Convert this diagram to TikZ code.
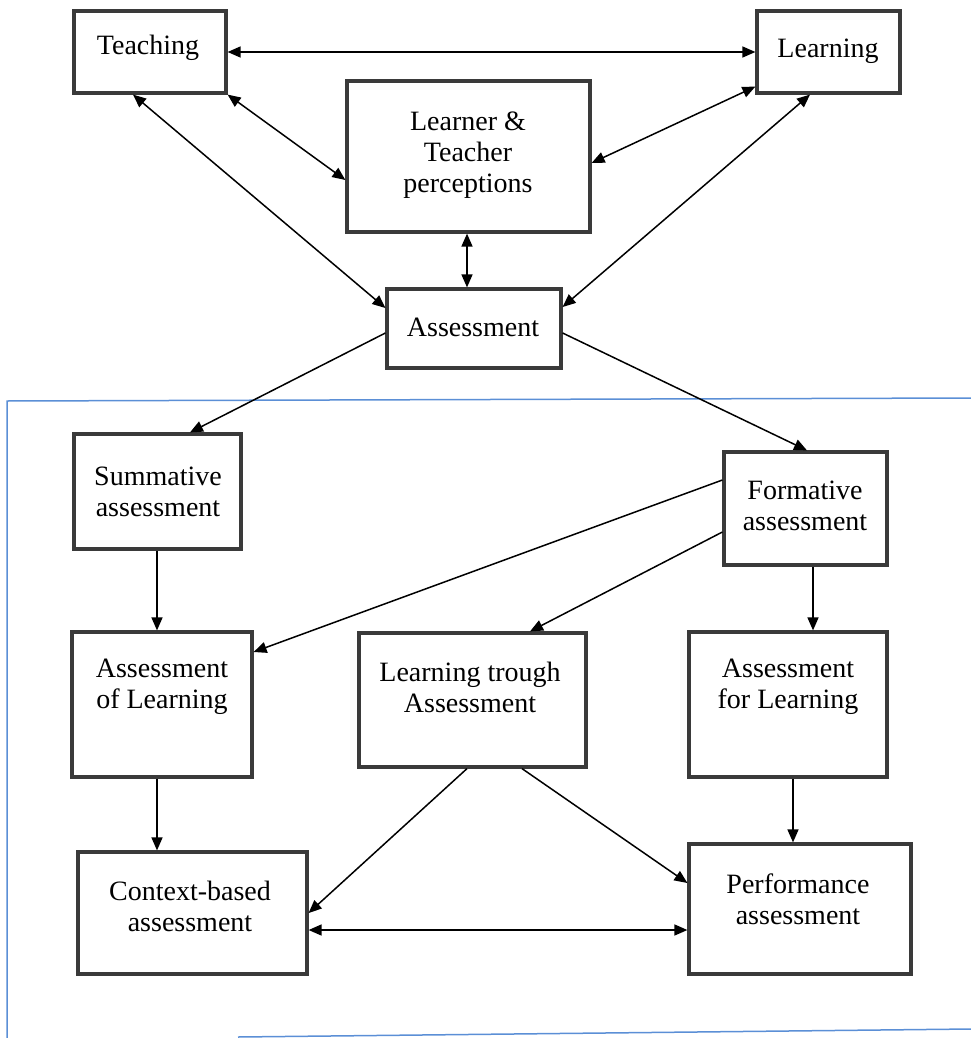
\documentclass[tikz,border=0pt]{standalone}
\usepackage{fontspec}
\setmainfont{Liberation Serif}
\usetikzlibrary{arrows.meta,fit,calc}
\definecolor{boxgray}{HTML}{3A3A3A}
\definecolor{frameblue}{HTML}{5B8FD6}
\begin{document}
\begin{tikzpicture}[x=1pt,y=-1pt,
  box/.style={draw=boxgray, line width=3.2pt, rectangle, inner sep=0pt, fill=none},
  lbl/.style={align=center, inner sep=0pt, font=\fontsize{28}{31}\selectfont},
  conn/.style={line width=1.5pt, -{Triangle[length=13pt,width=11pt]}},
  bconn/.style={line width=1.5pt, {Triangle[length=13pt,width=11pt]}-{Triangle[length=13pt,width=11pt]}},
  frame/.style={draw=frameblue, line width=1.5pt}
]
\useasboundingbox (0,0) rectangle (971,1038);

% blue frame
\draw[frame] (7,1038) -- (7,401) -- (971,398);
\draw[frame] (238,1037) -- (971,1029);

% boxes
\node[box, fit={(74,11) (226,93)}] (T) {};
\node[box, fit={(757,11) (900,93)}] (L) {};
\node[box, fit={(347,81) (590,232)}] (P) {};
\node[box, fit={(387,289) (561,368)}] (A) {};
\node[box, fit={(74,434) (241,549)}] (S) {};
\node[box, fit={(724,452) (887,565)}] (F) {};
\node[box, fit={(72,632) (252,777)}] (AoL) {};
\node[box, fit={(359,633) (586,767)}] (LtA) {};
\node[box, fit={(689,632) (887,777)}] (AfL) {};
\node[box, fit={(78,852) (307,974)}] (C) {};
\node[box, fit={(689,844) (911,974)}] (Pf) {};

% texts
\node[lbl] (tT) at (148,48) {Teaching};
\node[lbl] (tL) at (828,51) {Learning};
\node[lbl] (tP) at (468,155) {Learner \&\\Teacher\\perceptions};
\node[lbl] (tA) at (473,327) {Assessment};
\node[lbl] (tS) at (158,492) {Summative\\assessment};
\node[lbl] (tF) at (805,506) {Formative\\assessment};
\node[lbl] (tAoL) at (162,687) {Assessment\\of Learning};
\node[lbl] (tLtA) at (470,687) {Learning trough\\Assessment};
\node[lbl] (tAfL) at (788,687) {Assessment\\for Learning};
\node[lbl] (tC) at (190,906) {Context-based\\assessment};
\node[lbl] (tPf) at (798,899) {Performance\\assessment};

% connectors
\draw[bconn] (T.east) -- (L.west);
\draw[bconn] (T.south east) -- ([yshift=-23.5pt]P.west);
\draw[bconn] ([xshift=-17pt]T.south) -- ([yshift=20.5pt]A.west);
\draw[bconn] ([yshift=8pt]L.south west) -- ([yshift=-6.5pt]P.east);
\draw[bconn] ([xshift=-18.5pt]L.south) -- ([yshift=21.5pt]A.east);
\draw[bconn] ([xshift=-1.5pt]P.south) -- ([xshift=-1.5pt]P.south |- A.north);
\draw[conn] ([yshift=-4.5pt]A.west) -- ([xshift=32.5pt]S.north);
\draw[conn] ([yshift=-4.5pt]A.east) -- ([xshift=1.5pt]F.north);
\draw[conn] ([xshift=-0.5pt]S.south) -- ([xshift=-0.5pt]S.south |- AoL.north);
\draw[conn] ([yshift=28.5pt]F.west) -- ([yshift=52.5pt]AoL.east);
\draw[conn] ([yshift=-23.5pt]F.west) -- ([xshift=57.5pt]LtA.north);
\draw[conn] ([xshift=7.5pt]F.south) -- ([xshift=7.5pt]F.south |- AfL.north);
\draw[conn] ([xshift=-5pt]AoL.south) -- ([xshift=-5pt]AoL.south |- C.north);
\draw[conn] ([xshift=-5.5pt]LtA.south) -- (C.east);
\draw[conn] ([xshift=49.5pt]LtA.south) -- ([yshift=26pt]Pf.west);
\draw[conn] ([xshift=5pt]AfL.south) -- ([xshift=5pt]AfL.south |- Pf.north);
\draw[bconn] ([yshift=-17pt]C.east) -- ([yshift=-17pt]C.east -| Pf.west);
\end{tikzpicture}
\end{document}
